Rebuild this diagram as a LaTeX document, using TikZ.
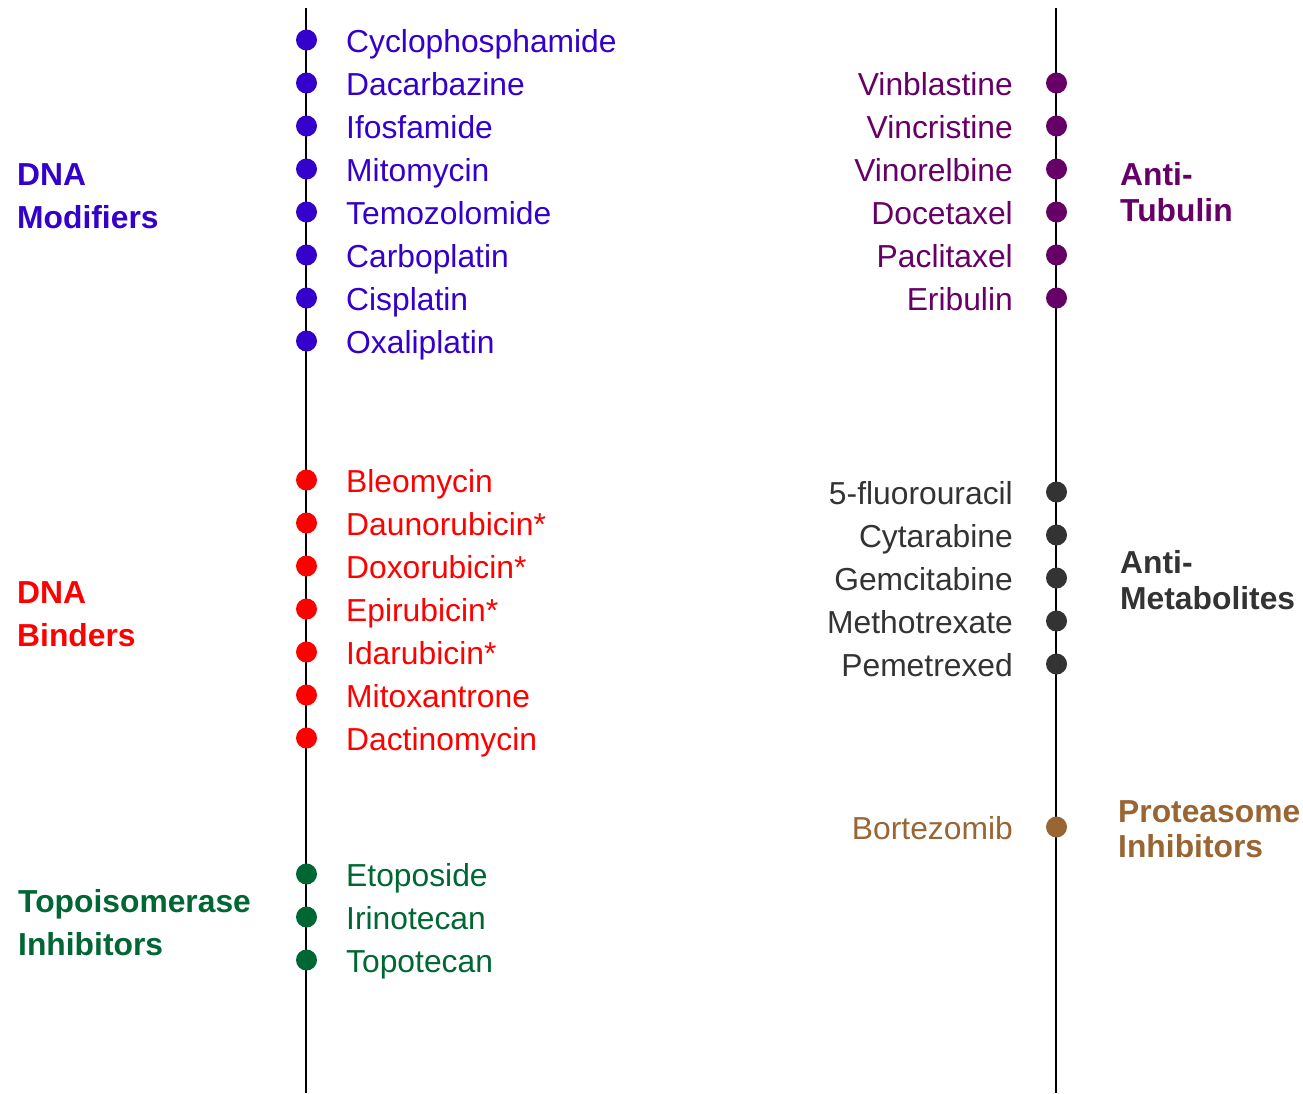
\documentclass[tikz,border=0pt]{standalone}
\usepackage{fontspec}
\setmainfont{Liberation Sans}
\definecolor{cblue}{HTML}{3300CC}
\definecolor{cred}{HTML}{FF0000}
\definecolor{cgreen}{HTML}{006633}
\definecolor{cpurple}{HTML}{660066}
\definecolor{cgray}{HTML}{333333}
\definecolor{cbrown}{HTML}{996633}
\begin{document}
\begin{tikzpicture}[x=1pt,y=-1pt,
  axis/.style={line width=1.5pt,black},
  dot/.style={circle,fill=#1,inner sep=0pt,minimum size=21pt},
  drugL/.style={anchor=base west,inner sep=0pt,text=#1,font=\fontsize{31.8}{36}\selectfont},
  drugR/.style={anchor=base east,inner sep=0pt,text=#1,font=\fontsize{31.8}{36}\selectfont},
  grp/.style={anchor=base west,inner sep=0pt,text=#1,font=\fontsize{31.8}{36}\selectfont\bfseries}]
\useasboundingbox (0,0) rectangle (1303,1093);
\coordinate (Ltop) at (306,8);
\coordinate (Lbot) at (306,1093);
\coordinate (Rtop) at (1056,8);
\coordinate (Rbot) at (1056,1093);
\draw[axis] (Ltop) -- (Lbot);
\draw[axis] (Rtop) -- (Rbot);
% DNA modifiers
\foreach \n/\y [count=\i] in {Cyclophosphamide/40,Dacarbazine/83,Ifosfamide/126,Mitomycin/169,Temozolomide/212,Carboplatin/255,Cisplatin/298,Oxaliplatin/341}{
  \node[dot=cblue] (m\i) at (306.5,\y) {};
  \node[drugL=cblue] (mt\i) at (346,\y+12) {\n};
}
% DNA binders
\foreach \n/\y [count=\i] in {Bleomycin/480,Daunorubicin*/523,Doxorubicin*/566,Epirubicin*/609,Idarubicin*/652,Mitoxantrone/695,Dactinomycin/738}{
  \node[dot=cred] (b\i) at (306.5,\y) {};
  \node[drugL=cred] (bt\i) at (346,\y+12) {\n};
}
% Topoisomerase
\foreach \n/\y [count=\i] in {Etoposide/874,Irinotecan/917,Topotecan/960}{
  \node[dot=cgreen] (t\i) at (306.5,\y) {};
  \node[drugL=cgreen] (tt\i) at (346,\y+12) {\n};
}
% Anti-tubulin
\foreach \n/\y [count=\i] in {Vinblastine/83,Vincristine/126,Vinorelbine/169,Docetaxel/212,Paclitaxel/255,Eribulin/298}{
  \node[dot=cpurple] (u\i) at (1056.5,\y) {};
  \node[drugR=cpurple] (ut\i) at (1013,\y+12) {\n};
}
% Anti-metabolites
\foreach \n/\y [count=\i] in {5-fluorouracil/492,Cytarabine/535,Gemcitabine/578,Methotrexate/621,Pemetrexed/664}{
  \node[dot=cgray] (a\i) at (1056.5,\y) {};
  \node[drugR=cgray] (at\i) at (1013,\y+12) {\n};
}
% Proteasome
\node[dot=cbrown] (p1) at (1056.5,827) {};
\node[drugR=cbrown] (pt1) at (1013,839) {Bortezomib};
% group labels
\node[grp=cblue] (g1a) at (17,185) {DNA};
\node[grp=cblue] (g1b) at (17,228) {Modifiers};
\node[grp=cred] (g2a) at (17,603) {DNA};
\node[grp=cred] (g2b) at (17,646) {Binders};
\node[grp=cgreen] (g3a) at (18,912) {Topoisomerase};
\node[grp=cgreen] (g3b) at (18,955) {Inhibitors};
\node[grp=cpurple] (g4a) at (1120,185) {Anti-};
\node[grp=cpurple] (g4b) at (1120,221) {Tubulin};
\node[grp=cgray] (g5a) at (1120,573) {Anti-};
\node[grp=cgray] (g5b) at (1120,609) {Metabolites};
\node[grp=cbrown] (g6a) at (1118,822) {Proteasome};
\node[grp=cbrown] (g6b) at (1118,857) {Inhibitors};
\end{tikzpicture}
\end{document}
